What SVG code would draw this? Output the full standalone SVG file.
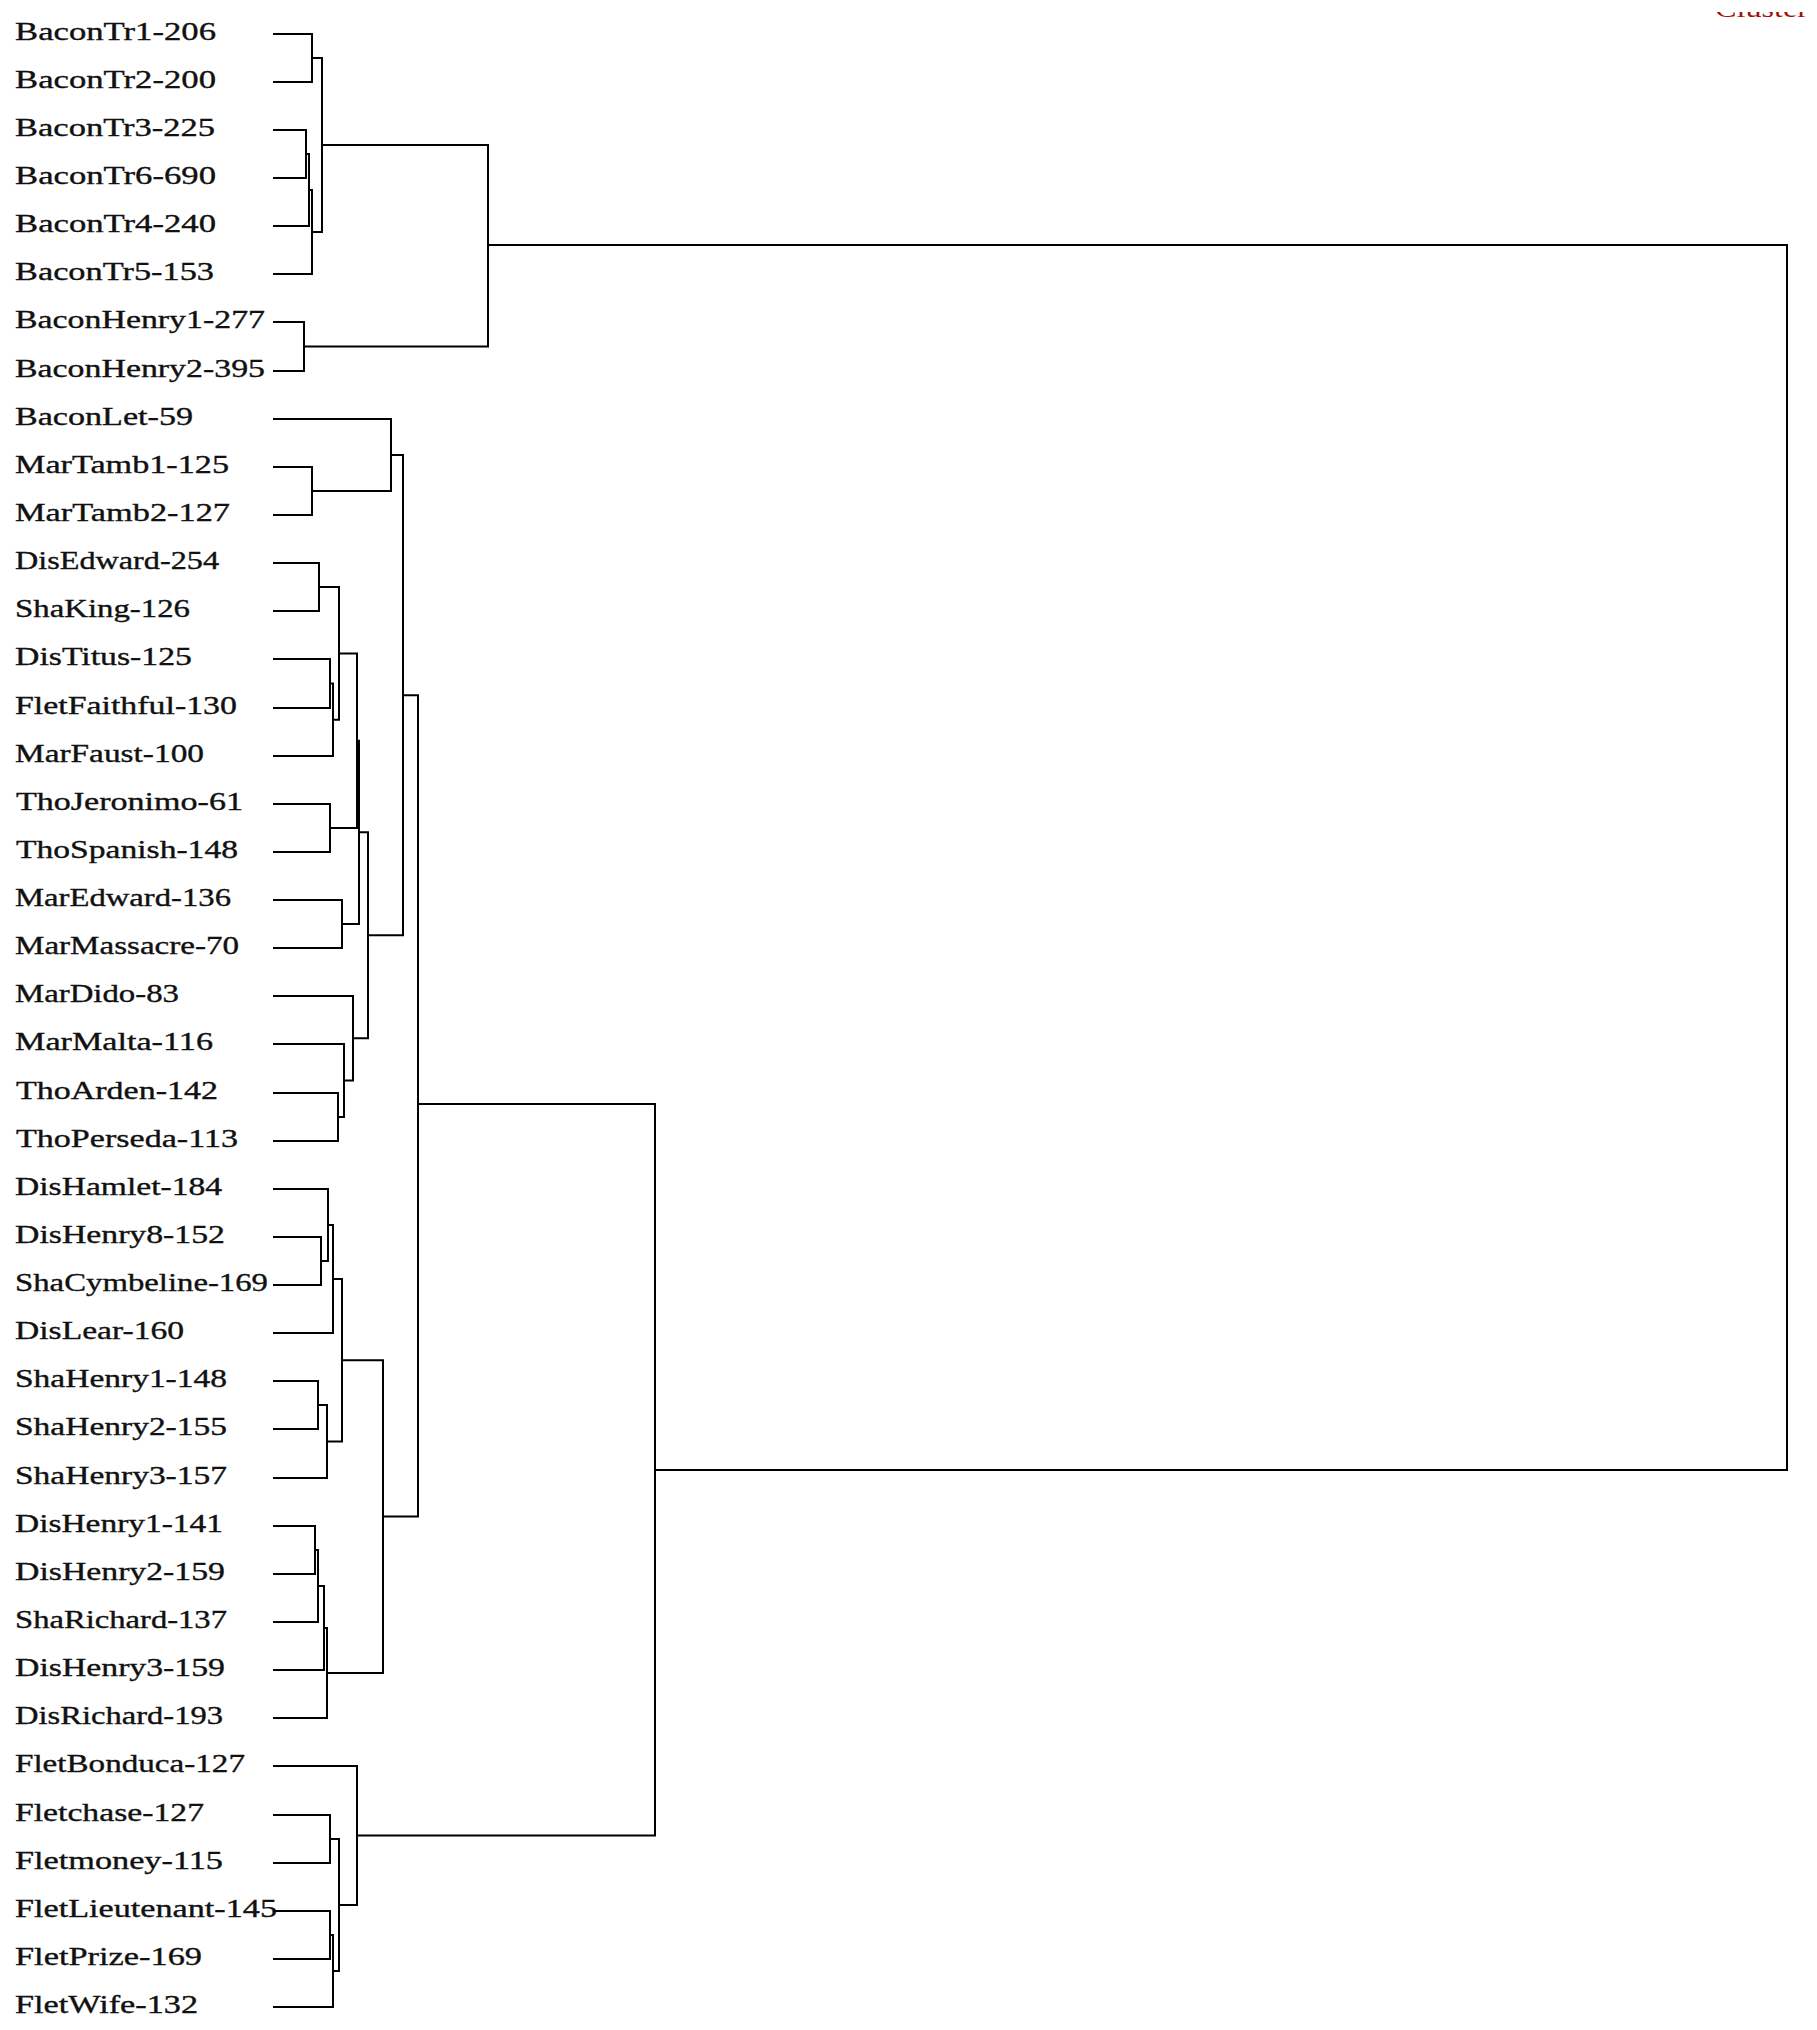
<svg xmlns="http://www.w3.org/2000/svg" width="1817" height="2030" viewBox="0 0 1817 2030">
<style>
.lbl{font-family:"Liberation Serif","Times New Roman",serif;font-size:25px;fill:#111;stroke:#111;stroke-width:0.35px;}
.ttl{font-family:"Liberation Serif","Times New Roman",serif;font-size:25px;fill:#a01010;}
.ln{fill:none;stroke:#000;stroke-width:2;stroke-linejoin:miter;}
</style>
<defs><clipPath id="cp"><rect x="1700" y="12" width="117" height="8"/></clipPath></defs>
<rect width="1817" height="2030" fill="#fff"/>
<g clip-path="url(#cp)"><text class="ttl" x="1715" y="17" textLength="93" lengthAdjust="spacingAndGlyphs">Cluster</text></g>
<g id="labels">
<g id="n0"><text class="lbl" x="15" y="39.5" textLength="201" lengthAdjust="spacingAndGlyphs">BaconTr1-206</text></g>
<g id="n1"><text class="lbl" x="15" y="87.5" textLength="201" lengthAdjust="spacingAndGlyphs">BaconTr2-200</text></g>
<g id="n2"><text class="lbl" x="15" y="135.5" textLength="200" lengthAdjust="spacingAndGlyphs">BaconTr3-225</text></g>
<g id="n3"><text class="lbl" x="15" y="183.5" textLength="201" lengthAdjust="spacingAndGlyphs">BaconTr6-690</text></g>
<g id="n4"><text class="lbl" x="15" y="231.5" textLength="201" lengthAdjust="spacingAndGlyphs">BaconTr4-240</text></g>
<g id="n5"><text class="lbl" x="15" y="279.5" textLength="199" lengthAdjust="spacingAndGlyphs">BaconTr5-153</text></g>
<g id="n6"><text class="lbl" x="15" y="327.5" textLength="250" lengthAdjust="spacingAndGlyphs">BaconHenry1-277</text></g>
<g id="n7"><text class="lbl" x="15" y="376.5" textLength="250" lengthAdjust="spacingAndGlyphs">BaconHenry2-395</text></g>
<g id="n8"><text class="lbl" x="15" y="424.5" textLength="178" lengthAdjust="spacingAndGlyphs">BaconLet-59</text></g>
<g id="n9"><text class="lbl" x="15" y="472.5" textLength="214" lengthAdjust="spacingAndGlyphs">MarTamb1-125</text></g>
<g id="n10"><text class="lbl" x="15" y="520.5" textLength="215" lengthAdjust="spacingAndGlyphs">MarTamb2-127</text></g>
<g id="n11"><text class="lbl" x="15" y="568.5" textLength="204" lengthAdjust="spacingAndGlyphs">DisEdward-254</text></g>
<g id="n12"><text class="lbl" x="15" y="616.5" textLength="175" lengthAdjust="spacingAndGlyphs">ShaKing-126</text></g>
<g id="n13"><text class="lbl" x="15" y="664.5" textLength="177" lengthAdjust="spacingAndGlyphs">DisTitus-125</text></g>
<g id="n14"><text class="lbl" x="15" y="713.5" textLength="222" lengthAdjust="spacingAndGlyphs">FletFaithful-130</text></g>
<g id="n15"><text class="lbl" x="15" y="761.5" textLength="189" lengthAdjust="spacingAndGlyphs">MarFaust-100</text></g>
<g id="n16"><text class="lbl" x="16" y="809.5" textLength="227" lengthAdjust="spacingAndGlyphs">ThoJeronimo-61</text></g>
<g id="n17"><text class="lbl" x="16" y="857.5" textLength="222" lengthAdjust="spacingAndGlyphs">ThoSpanish-148</text></g>
<g id="n18"><text class="lbl" x="15" y="905.5" textLength="216" lengthAdjust="spacingAndGlyphs">MarEdward-136</text></g>
<g id="n19"><text class="lbl" x="15" y="953.5" textLength="224" lengthAdjust="spacingAndGlyphs">MarMassacre-70</text></g>
<g id="n20"><text class="lbl" x="15" y="1001.5" textLength="164" lengthAdjust="spacingAndGlyphs">MarDido-83</text></g>
<g id="n21"><text class="lbl" x="15" y="1049.5" textLength="198" lengthAdjust="spacingAndGlyphs">MarMalta-116</text></g>
<g id="n22"><text class="lbl" x="16" y="1098.5" textLength="202" lengthAdjust="spacingAndGlyphs">ThoArden-142</text></g>
<g id="n23"><text class="lbl" x="16" y="1146.5" textLength="222" lengthAdjust="spacingAndGlyphs">ThoPerseda-113</text></g>
<g id="n24"><text class="lbl" x="15" y="1194.5" textLength="207" lengthAdjust="spacingAndGlyphs">DisHamlet-184</text></g>
<g id="n25"><text class="lbl" x="15" y="1242.5" textLength="210" lengthAdjust="spacingAndGlyphs">DisHenry8-152</text></g>
<g id="n26"><text class="lbl" x="15" y="1290.5" textLength="253" lengthAdjust="spacingAndGlyphs">ShaCymbeline-169</text></g>
<g id="n27"><text class="lbl" x="15" y="1338.5" textLength="169" lengthAdjust="spacingAndGlyphs">DisLear-160</text></g>
<g id="n28"><text class="lbl" x="15" y="1386.5" textLength="212" lengthAdjust="spacingAndGlyphs">ShaHenry1-148</text></g>
<g id="n29"><text class="lbl" x="15" y="1434.5" textLength="212" lengthAdjust="spacingAndGlyphs">ShaHenry2-155</text></g>
<g id="n30"><text class="lbl" x="15" y="1483.5" textLength="212" lengthAdjust="spacingAndGlyphs">ShaHenry3-157</text></g>
<g id="n31"><text class="lbl" x="15" y="1531.5" textLength="208" lengthAdjust="spacingAndGlyphs">DisHenry1-141</text></g>
<g id="n32"><text class="lbl" x="15" y="1579.5" textLength="210" lengthAdjust="spacingAndGlyphs">DisHenry2-159</text></g>
<g id="n33"><text class="lbl" x="15" y="1627.5" textLength="212" lengthAdjust="spacingAndGlyphs">ShaRichard-137</text></g>
<g id="n34"><text class="lbl" x="15" y="1675.5" textLength="210" lengthAdjust="spacingAndGlyphs">DisHenry3-159</text></g>
<g id="n35"><text class="lbl" x="15" y="1723.5" textLength="208" lengthAdjust="spacingAndGlyphs">DisRichard-193</text></g>
<g id="n36"><text class="lbl" x="15" y="1771.5" textLength="230" lengthAdjust="spacingAndGlyphs">FletBonduca-127</text></g>
<g id="n37"><text class="lbl" x="15" y="1820.5" textLength="189" lengthAdjust="spacingAndGlyphs">Fletchase-127</text></g>
<g id="n38"><text class="lbl" x="15" y="1868.5" textLength="208" lengthAdjust="spacingAndGlyphs">Fletmoney-115</text></g>
<g id="n39"><text class="lbl" x="15" y="1916.5" textLength="262" lengthAdjust="spacingAndGlyphs">FletLieutenant-145</text></g>
<g id="n40"><text class="lbl" x="15" y="1964.5" textLength="187" lengthAdjust="spacingAndGlyphs">FletPrize-169</text></g>
<g id="n41"><text class="lbl" x="15" y="2012.5" textLength="183" lengthAdjust="spacingAndGlyphs">FletWife-132</text></g>
</g>
<g id="connectors" class="ln">
<path d="M273 34H312V82H273"/>
<path d="M273 130H306V178H273"/>
<path d="M306 154H309V226H273"/>
<path d="M309 190H312V274H273"/>
<path d="M312 58H322V232H312"/>
<path d="M273 322H304V371H273"/>
<path d="M322 145H488V346.5H304"/>
<path d="M488 245H1787V1470H655"/>
<path d="M273 467H312V515H273"/>
<path d="M273 419H391V491H312"/>
<path d="M273 563H319V611H273"/>
<path d="M273 659H330V708H273"/>
<path d="M330 683.5H333V756H273"/>
<path d="M319 587H339V719.75H333"/>
<path d="M273 804H330V852H273"/>
<path d="M339 653.4H357V828H330"/>
<path d="M273 900H342V948H273"/>
<path d="M357 740.7H359V924H342"/>
<path d="M273 1093H338V1141H273"/>
<path d="M273 1044H344V1117H338"/>
<path d="M273 996H353V1080.5H344"/>
<path d="M359 832.35H368V1038.25H353"/>
<path d="M391 455H403V935.3H368"/>
<path d="M273 1237H321V1285H273"/>
<path d="M273 1189H328V1261H321"/>
<path d="M328 1225H333V1333H273"/>
<path d="M273 1381H318V1429H273"/>
<path d="M318 1405H327V1478H273"/>
<path d="M333 1279H342V1441.5H327"/>
<path d="M273 1526H315V1574H273"/>
<path d="M315 1550H318V1622H273"/>
<path d="M318 1586H324V1670H273"/>
<path d="M324 1628H327V1718H273"/>
<path d="M342 1360.25H383V1673H327"/>
<path d="M403 695.15H418V1516.6H383"/>
<path d="M273 1815H330V1863H273"/>
<path d="M273 1911H330V1959H273"/>
<path d="M330 1935H333V2007H273"/>
<path d="M330 1839H339V1971H333"/>
<path d="M273 1766H357V1905H339"/>
<path d="M418 1104H655V1835.5H357"/>
</g>
</svg>
